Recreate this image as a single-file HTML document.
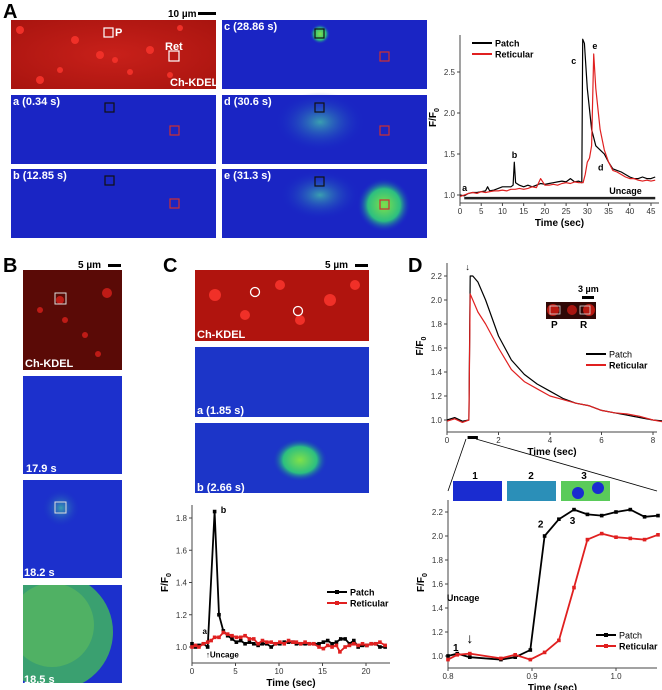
<!DOCTYPE html>
<html><head><meta charset="utf-8">
<style>
body{margin:0;background:#fff;}
svg{display:block;font-family:"Liberation Sans",Arial,sans-serif;}
.pl{font-weight:bold;font-size:20px;}
.il{font-weight:bold;font-size:11px;fill:#fff;}
.tk{font-size:8px;fill:#333;}
.at{font-size:10px;font-weight:bold;}
</style></head>
<body>
<svg id="fig" width="662" height="690" viewBox="0 0 662 690">
<defs>
<radialGradient id="redg" cx="50%" cy="50%" r="70%"><stop offset="0" stop-color="#c8201a"/><stop offset="1" stop-color="#a8140f"/></radialGradient>
<radialGradient id="hot" cx="50%" cy="50%" r="50%"><stop offset="0" stop-color="#7fe04a"/><stop offset="0.6" stop-color="#2cbf80"/><stop offset="1" stop-color="#1626c8" stop-opacity="0"/></radialGradient>
<radialGradient id="warm" cx="50%" cy="50%" r="50%"><stop offset="0" stop-color="#3a9fb0"/><stop offset="1" stop-color="#1626c8" stop-opacity="0"/></radialGradient>
<clipPath id="clipB4"><rect x="23" y="585" width="99" height="98"/></clipPath>
</defs>

<text class="pl" x="3" y="18">A</text>
<text class="pl" x="3" y="272">B</text>
<text class="pl" x="163" y="272">C</text>
<text class="pl" x="408" y="272">D</text>

<g>
<text x="168" y="17" font-size="10" font-weight="bold">10 µm</text><rect x="198" y="12" width="18" height="3" fill="#000"/>
<rect x="11" y="20" width="205" height="69" fill="url(#redg)"/>
<g fill="#f03028"><circle cx="20" cy="30" r="4"/><circle cx="75" cy="40" r="4"/><circle cx="100" cy="55" r="4"/><circle cx="115" cy="60" r="3"/><circle cx="150" cy="50" r="4"/><circle cx="40" cy="80" r="4"/><circle cx="130" cy="72" r="3"/><circle cx="180" cy="28" r="3"/><circle cx="60" cy="70" r="3"/><circle cx="170" cy="75" r="3"/></g>
<rect x="104" y="28" width="9" height="9" fill="none" stroke="#fff" stroke-width="1.2"/><text class="il" x="115" y="36">P</text>
<text class="il" x="165" y="50">Ret</text><rect x="169" y="51" width="10" height="10" fill="none" stroke="#fff" stroke-width="1.2"/>
<text class="il" x="170" y="86">Ch-KDEL</text>
<rect x="11" y="95" width="205" height="69" fill="#1a25c4"/><text class="il" x="13" y="105">a (0.34 s)</text>
<rect x="105" y="103" width="9" height="9" fill="none" stroke="#111" stroke-width="1.2"/><rect x="170" y="126" width="9" height="9" fill="none" stroke="#d03030" stroke-width="1.2"/>
<rect x="11" y="169" width="205" height="69" fill="#1a25c4"/><text class="il" x="13" y="179">b (12.85 s)</text>
<rect x="105" y="176" width="9" height="9" fill="none" stroke="#111" stroke-width="1.2"/><rect x="170" y="199" width="9" height="9" fill="none" stroke="#d03030" stroke-width="1.2"/>
<rect x="222" y="20" width="205" height="69" fill="#1a25c4"/><circle cx="320" cy="34" r="10" fill="url(#hot)"/><text class="il" x="224" y="30">c (28.86 s)</text>
<rect x="315" y="29" width="9" height="9" fill="none" stroke="#111" stroke-width="1.2"/><rect x="380" y="52" width="9" height="9" fill="none" stroke="#d03030" stroke-width="1.2"/>
<rect x="222" y="95" width="205" height="69" fill="#1a25c4"/><ellipse cx="320" cy="122" rx="45" ry="30" fill="url(#warm)"/><text class="il" x="224" y="105">d (30.6 s)</text>
<rect x="315" y="103" width="9" height="9" fill="none" stroke="#111" stroke-width="1.2"/><rect x="380" y="126" width="9" height="9" fill="none" stroke="#d03030" stroke-width="1.2"/>
<rect x="222" y="169" width="205" height="69" fill="#1a25c4"/><ellipse cx="320" cy="195" rx="40" ry="25" fill="url(#warm)"/><circle cx="384" cy="205" r="27" fill="url(#hot)"/><text class="il" x="224" y="179">e (31.3 s)</text>
<rect x="315" y="177" width="9" height="9" fill="none" stroke="#111" stroke-width="1.2"/><rect x="380" y="200" width="9" height="9" fill="none" stroke="#d03030" stroke-width="1.2"/>
</g>

<g>
<text x="78" y="268" font-size="10" font-weight="bold">5 µm</text><rect x="108" y="264" width="13" height="3" fill="#000"/>
<rect x="23" y="270" width="99" height="100" fill="#5a0a06"/>
<g fill="#d8201a" opacity="0.8"><circle cx="107" cy="293" r="5"/><circle cx="60" cy="300" r="4"/><circle cx="65" cy="320" r="3"/><circle cx="98" cy="354" r="3"/><circle cx="40" cy="310" r="3"/><circle cx="85" cy="335" r="3"/></g>
<rect x="55" y="293" width="11" height="11" fill="none" stroke="#ddd" stroke-width="1"/>
<text class="il" x="25" y="367">Ch-KDEL</text>
<rect x="23" y="376" width="99" height="98" fill="#1c30cc"/><text class="il" x="26" y="472">17.9 s</text>
<rect x="23" y="480" width="99" height="98" fill="#1c30cc"/><circle cx="61" cy="508" r="20" fill="url(#warm)"/><rect x="55" y="502" width="11" height="11" fill="none" stroke="#ddd" stroke-width="1"/><text class="il" x="24" y="576">18.2 s</text>
<rect x="23" y="585" width="99" height="98" fill="#1c30cc"/>
<g clip-path="url(#clipB4)"><ellipse cx="55" cy="632" rx="58" ry="58" fill="#3aa070"/><ellipse cx="52" cy="625" rx="42" ry="42" fill="#5ab860" opacity="0.7"/></g>
<text class="il" x="24" y="683">18.5 s</text>
</g>

<g>
<text x="325" y="268" font-size="10" font-weight="bold">5 µm</text><rect x="355" y="264" width="13" height="3" fill="#000"/>
<rect x="195" y="270" width="174" height="71" fill="#b0140e"/>
<g fill="#f03028"><circle cx="215" cy="295" r="6"/><circle cx="280" cy="285" r="5"/><circle cx="330" cy="300" r="6"/><circle cx="245" cy="315" r="5"/><circle cx="355" cy="285" r="5"/><circle cx="300" cy="320" r="5"/></g>
<circle cx="255" cy="292" r="4.5" fill="none" stroke="#fff" stroke-width="1.3"/><circle cx="298" cy="311" r="4.5" fill="none" stroke="#fff" stroke-width="1.3"/>
<text class="il" x="197" y="338">Ch-KDEL</text>
<rect x="195" y="347" width="174" height="70" fill="#1c35c8"/><text class="il" x="197" y="414">a (1.85 s)</text>
<rect x="195" y="423" width="174" height="70" fill="#1c35c8"/><ellipse cx="300" cy="460" rx="28" ry="22" fill="url(#hot)"/><text class="il" x="197" y="491">b (2.66 s)</text>
</g>

<g>
<text x="578" y="292" font-size="9" font-weight="bold">3 µm</text><rect x="582" y="296" width="12" height="3" fill="#000"/>
<rect x="546" y="302" width="50" height="17" fill="#300806"/><circle cx="553" cy="310" r="6" fill="#b81810"/><circle cx="572" cy="310" r="5" fill="#a81510"/><circle cx="589" cy="310" r="6" fill="#b81810"/>
<rect x="550" y="306" width="10" height="8" fill="none" stroke="#ddd" stroke-width="0.8"/><rect x="580" y="306" width="10" height="8" fill="none" stroke="#ddd" stroke-width="0.8"/>
<text x="551" y="328" font-size="10" font-weight="bold">P</text><text x="580" y="328" font-size="10" font-weight="bold">R</text>
<line x1="466" y1="439" x2="448" y2="491" stroke="#000" stroke-width="0.8"/><line x1="476" y1="439" x2="657" y2="491" stroke="#000" stroke-width="0.8"/>
<rect x="453" y="481" width="49" height="20" fill="#1a2cd0"/><text x="475" y="479" font-size="10" font-weight="bold" text-anchor="middle">1</text>
<rect x="507" y="481" width="49" height="20" fill="#2b8fb8"/><text x="531" y="479" font-size="10" font-weight="bold" text-anchor="middle">2</text>
<rect x="561" y="481" width="49" height="20" fill="#5acb5a"/><circle cx="578" cy="493" r="6" fill="#1a2cd0"/><circle cx="598" cy="488" r="6" fill="#1a2cd0"/><text x="584" y="479" font-size="10" font-weight="bold" text-anchor="middle">3</text>
</g>

<g id="charts"></g>
</svg>
<script>
const aPatchT=[0,1,2,3,4,5,6,6.5,7,8,9,10,11,12,12.5,12.8,13.1,14,15,16,17,18,19,20,21,22,23,24,25,26,27,28,28.7,28.9,29.3,30,31,32,33,34,35,36,37,38,39,40,41,42,43,44,45,46];
const aPatchV=[1.0,0.99,1.02,1.03,1.03,1.04,1.05,1.1,1.05,1.06,1.08,1.1,1.1,1.1,1.12,1.4,1.15,1.12,1.1,1.12,1.1,1.12,1.14,1.13,1.14,1.15,1.16,1.17,1.16,1.2,1.16,1.17,1.15,2.9,2.85,2.3,1.8,1.6,1.55,1.5,1.4,1.32,1.3,1.28,1.25,1.22,1.2,1.2,1.22,1.2,1.2,1.22];
const aRetT=[0,1,2,3,4,5,6,7,8,9,10,11,12,13,14,15,16,17,18,19,20,21,22,23,24,25,26,27,28,29,29.5,30,30.5,31,31.5,32,33,34,35,36,37,38,39,40,41,42,43,44,45,46];
const aRetV=[0.98,1.0,1.02,1.03,1.02,1.04,1.03,1.04,1.05,1.05,1.06,1.05,1.07,1.07,1.08,1.07,1.08,1.1,1.09,1.2,1.12,1.12,1.13,1.12,1.14,1.15,1.14,1.16,1.15,1.15,1.25,1.4,1.45,1.6,2.72,2.3,1.8,1.55,1.4,1.3,1.28,1.25,1.22,1.2,1.2,1.18,1.17,1.18,1.17,1.18];
const aXTicks=[0,5,10,15,20,25,30,35,40,45];
const aYTicks=[1.0,1.5,2.0,2.5];
const cPatchT=[0,0.4,0.8,1.3,1.8,2.6,3.1,3.6,4.1,4.6,5.1,5.6,6.1,6.6,7.1,7.6,8.1,8.6,9.1,9.6,10.1,10.6,11.1,11.6,12,12.5,13,13.5,14,14.6,15.1,15.6,16.1,16.6,17.1,17.6,18.1,18.6,19.1,19.6,20.1,20.6,21.1,21.6,22.2];
const cPatchV=[1.02,1.0,1.01,1.02,1.0,1.84,1.2,1.1,1.07,1.05,1.03,1.04,1.02,1.03,1.02,1.01,1.02,1.02,1.0,1.02,1.02,1.03,1.03,1.03,1.02,1.02,1.02,1.02,1.02,1.02,1.03,1.04,1.02,1.03,1.05,1.05,1.02,1.04,1.0,1.01,1.01,1.02,1.02,1.0,1.0];
const cRetT=[0,0.4,0.8,1.3,1.8,2.2,2.6,3.1,3.6,4.1,4.6,5.1,5.6,6.1,6.6,7.1,7.6,8.1,8.6,9.1,9.6,10.1,10.6,11.1,11.6,12,12.5,13,13.5,14,14.6,15.1,15.6,16.1,16.6,17,17.6,18.1,18.6,19.1,19.6,20.1,20.6,21.1,21.6,22.2];
const cRetV=[1.0,1.01,1.0,1.02,1.03,1.04,1.06,1.06,1.09,1.08,1.07,1.06,1.06,1.07,1.05,1.05,1.02,1.04,1.03,1.03,1.02,1.03,1.02,1.04,1.03,1.03,1.02,1.03,1.02,1.02,1.0,0.99,1.01,1.0,1.01,0.97,1.0,1.01,1.02,1.01,1.02,1.01,1.02,1.02,1.03,1.01];
const cXTicks=[0,5,10,15,20];
const cYTicks=[1.0,1.2,1.4,1.6,1.8];
const dPatchT=[0,0.3,0.6,0.85,0.9,1.0,1.2,1.5,2,2.5,3,3.5,4,4.5,5,5.5,6,6.5,7,7.5,8,8.5];
const dPatchV=[1.0,1.02,0.99,1.0,2.2,2.2,2.15,2.0,1.7,1.5,1.38,1.3,1.24,1.18,1.14,1.12,1.08,1.06,1.04,1.02,1.0,0.99];
const dRetT=[0,0.3,0.6,0.85,0.9,1.0,1.2,1.5,2,2.5,3,3.5,4,4.5,5,5.5,6,6.5,7,7.5,8,8.5];
const dRetV=[0.99,1.01,0.98,1.0,2.05,2.0,1.9,1.8,1.6,1.42,1.32,1.26,1.2,1.17,1.14,1.12,1.08,1.06,1.05,1.03,1.0,0.98];
const dXTicks=[0,2,4,6,8];
const dYTicks=[1.0,1.2,1.4,1.6,1.8,2.0,2.2];
const ePatchT=[0.8,0.811,0.826,0.863,0.88,0.898,0.915,0.932,0.95,0.966,0.983,1.0,1.017,1.034,1.05];
const ePatchV=[1.0,1.02,0.99,0.97,0.99,1.05,2.0,2.14,2.22,2.18,2.17,2.2,2.22,2.16,2.17];
const eRetT=[0.8,0.811,0.826,0.863,0.88,0.898,0.915,0.932,0.95,0.966,0.983,1.0,1.017,1.034,1.05];
const eRetV=[0.97,1.01,1.02,0.98,1.01,0.97,1.03,1.13,1.57,1.97,2.02,1.99,1.98,1.97,2.01];
const eXTicks=[0.8,0.9,1.0];
const eYTicks=[1.0,1.2,1.4,1.6,1.8,2.0,2.2];

const NS='http://www.w3.org/2000/svg';
const root=document.getElementById('charts');
function mk(tag,attrs,parent){const e=document.createElementNS(NS,tag);for(const k in attrs)e.setAttribute(k,attrs[k]);(parent||root).appendChild(e);return e;}
function txt(s,attrs,parent){const e=mk('text',attrs,parent);e.textContent=s;return e;}

function chart(name,o){
  const g=mk('g',{});
  
  
  const sx=v=>o.x0+(v-o.xmin)/(o.xmax-o.xmin)*(o.x1-o.x0);
  const sy=v=>o.y0-(v-o.ymin)/(o.ymax-o.ymin)*(o.y0-o.y1);
  const ax=mk('path',{d:`M${o.l},${o.t}V${o.b}H${o.r}`,fill:'none',stroke:'#444','stroke-width':1},g);
  
  
  o.xt.forEach(v=>{const X=sx(v);mk('line',{x1:X,x2:X,y1:o.b,y2:o.b+3,stroke:'#444'},g);
    const t=txt(o.xf(v),{x:X,y:o.b+11,'text-anchor':'middle',class:'tk'},g);
    
    });
  o.yt.forEach(v=>{const Y=sy(v);mk('line',{x1:o.l-3,x2:o.l,y1:Y,y2:Y,stroke:'#444'},g);
    const t=txt(v.toFixed(1),{x:o.l-5,y:Y+3,'text-anchor':'end',class:'tk'},g);
    
    });
  const xt=txt('Time (sec)',{x:(o.l+o.r)/2,y:o.b+23,'text-anchor':'middle',class:'at'},g);
  
  
  const yt=txt('F/F',{x:0,y:0,class:'at',transform:`translate(${o.l-24},${(o.t+o.b)/2+8}) rotate(-90)`},g);
  
  
  mk('tspan',{'font-size':7,dy:3},yt).textContent='0';
  o.series.forEach(s=>{
    const d=s.t.map((t,i)=>(i?'L':'M')+sx(t).toFixed(1)+','+sy(s.v[i]).toFixed(1)).join('');
    const p=mk('path',{d:d,fill:'none',stroke:s.c,'stroke-width':s.w||1.2,'stroke-linejoin':'round'},g);
    
    
    if(s.m) s.t.forEach((t,i)=>{const r=mk('rect',{x:sx(t)-1.8,y:sy(s.v[i])-1.8,width:3.6,height:3.6,fill:s.c},g);
      
      });
  });
  o.series.forEach((s,i)=>{const lx=o.lx,ly=o.ly+i*11;
    mk('line',{x1:lx,x2:lx+20,y1:ly,y2:ly,stroke:s.c,'stroke-width':2},g);
    if(s.m) mk('rect',{x:lx+8,y:ly-2,width:4,height:4,fill:s.c},g);
    const t=txt(s.label,{x:lx+23,y:ly+3.5,'font-size':9,'font-weight':s.label=='Reticular'||o.boldAll?'bold':'normal'},g);
    
    });
  (o.ann||[]).forEach(a=>{const t=txt(a[2],{x:sx(a[0]),y:sy(a[1]),'font-size':a[3]||9,'font-weight':'bold'},g);
    
    });
  return {g,sx,sy};
}

const A=chart('panel-a-chart',{l:460,r:659,t:35,b:203,x0:460,x1:651,xmin:0,xmax:45,y0:195,y1:72,ymin:1.0,ymax:2.5,
  xt:aXTicks,yt:aYTicks,xf:v=>String(v),lx:472,ly:43,boldAll:true,
  series:[{t:aPatchT,v:aPatchV,c:'#000',label:'Patch',name:'patch'},{t:aRetT,v:aRetV,c:'#e02020',label:'Reticular',name:'reticular'}],
  ann:[[0.5,1.05,'a'],[12.2,1.45,'b'],[26.2,2.6,'c'],[32.5,1.3,'d'],[31.2,2.78,'e']]});
mk('rect',{x:A.sx(1),y:A.sy(0.965)-1,width:A.sx(46)-A.sx(1),height:2.5,fill:'#222'},A.g);
txt('Uncage',{x:A.sx(39),y:A.sy(1.01),'font-size':9,'font-weight':'bold','text-anchor':'middle'},A.g);

const C=chart('panel-c-chart',{l:192,r:390,t:505,b:663,x0:192,x1:366,xmin:0,xmax:20,y0:647,y1:518,ymin:1.0,ymax:1.8,
  xt:cXTicks,yt:cYTicks,xf:v=>String(v),lx:327,ly:592,boldAll:true,
  series:[{t:cPatchT,v:cPatchV,c:'#000',label:'Patch',name:'patch',m:1,w:1.8},{t:cRetT,v:cRetV,c:'#e02020',label:'Reticular',name:'reticular',m:1,w:1.8}],
  ann:[[3.3,1.83,'b'],[1.2,1.08,'a',8]]});
txt('↑Uncage',{x:C.sx(1.6),y:C.sy(0.935),'font-size':8,'font-weight':'bold'},C.g);

const D=chart('panel-d-top-chart',{l:447,r:657,t:263,b:432,x0:447,x1:653,xmin:0,xmax:8,y0:420,y1:276,ymin:1.0,ymax:2.2,
  xt:dXTicks,yt:dYTicks,xf:v=>String(v),lx:586,ly:354,
  series:[{t:dPatchT,v:dPatchV,c:'#000',label:'Patch',name:'patch'},{t:dRetT,v:dRetV,c:'#e02020',label:'Reticular',name:'reticular'}]});
txt('↓',{x:D.sx(0.8),y:D.sy(2.25),'font-size':9,'text-anchor':'middle'},D.g);
mk('rect',{x:D.sx(0.8),y:436,width:D.sx(1.2)-D.sx(0.8),height:3,fill:'#000'},D.g);

const E=chart('panel-d-bottom-chart',{l:448,r:657,t:500,b:668,x0:448,x1:616,xmin:0.8,xmax:1.0,y0:656,y1:512,ymin:1.0,ymax:2.2,
  xt:eXTicks,yt:eYTicks,xf:v=>v.toFixed(1),lx:596,ly:635,
  series:[{t:ePatchT,v:ePatchV,c:'#000',label:'Patch',name:'patch',m:1,w:1.8},{t:eRetT,v:eRetV,c:'#e02020',label:'Reticular',name:'reticular',m:1,w:1.8}],
  ann:[[0.806,1.04,'1',10],[0.907,2.07,'2',10],[0.945,2.1,'3',10]]});
txt('Uncage',{x:E.sx(0.818),y:E.sy(1.46),'font-size':9,'font-weight':'bold','text-anchor':'middle'},E.g);
txt('↓',{x:E.sx(0.826),y:E.sy(1.11),'font-size':14,'text-anchor':'middle'},E.g);
</script>
</body></html>
